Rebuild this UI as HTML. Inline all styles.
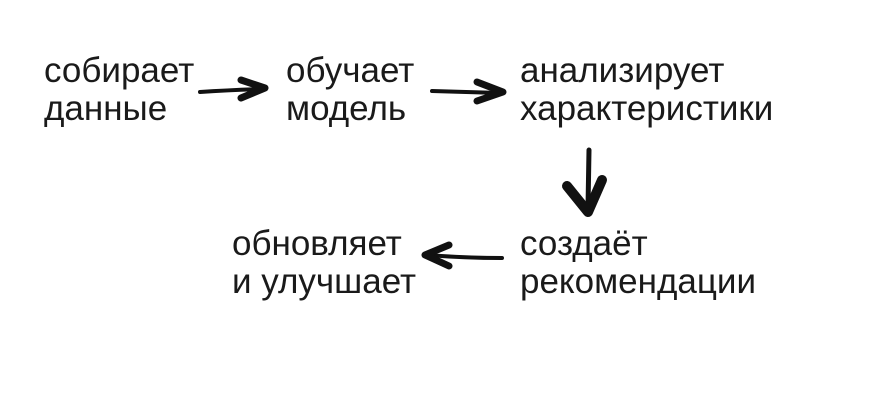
<!DOCTYPE html>
<html><head><meta charset="utf-8"><style>
html,body{margin:0;padding:0;background:#fff;}
body{width:870px;height:400px;position:relative;overflow:hidden;font-family:"Liberation Sans","DejaVu Sans",sans-serif;color:#1a1a1a;}
.t{position:absolute;font-size:35px;line-height:38px;white-space:nowrap;}
svg{position:absolute;left:0;top:0;}
</style></head><body>
<div class="t" style="left:44px;top:52px;">собирает<br>данные</div>
<div class="t" style="left:286px;top:52px;">обучает<br>модель</div>
<div class="t" style="left:520px;top:52px;">анализирует<br>характеристики</div>
<div class="t" style="left:520px;top:225px;">создаёт<br>рекомендации</div>
<div class="t" style="left:232px;top:225px;">обновляет<br>и улучшает</div>
<svg width="870" height="400" viewBox="0 0 870 400" fill="none" stroke="#111" stroke-linecap="round" stroke-linejoin="round">
<path d="M200 92 Q230 90 262 89" stroke-width="4"/>
<path d="M241 80 L265 88 L241 98" stroke-width="7"/>
<path d="M432 91 Q465 92 500 93" stroke-width="4"/>
<path d="M477 82 L503 92 L477 101" stroke-width="7"/>
<path d="M589 150 L588 208" stroke-width="5"/>
<path d="M567 186 L588 212 L602 180" stroke-width="10"/>
<path d="M502 258 Q465 258 427 255" stroke-width="4"/>
<path d="M449 245 L425 255 L449 266" stroke-width="7"/>
</svg>
</body></html>
